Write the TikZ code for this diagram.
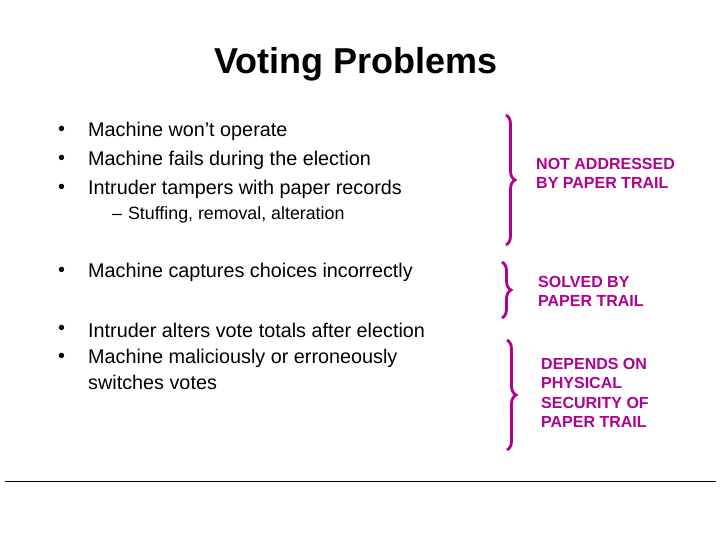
\documentclass[tikz,border=0pt]{standalone}
\usepackage{fontspec}
\setmainfont{Liberation Sans}
\usetikzlibrary{decorations.pathreplacing}
\definecolor{mag}{RGB}{176,0,140}
\begin{document}
\begin{tikzpicture}[x=1pt,y=-1pt,
  item/.style={anchor=west,font=\fontsize{19.8}{22}\selectfont,inner sep=0},
  sub/.style={anchor=west,font=\fontsize{17.8}{19}\selectfont,inner sep=0},
  lbl/.style={anchor=north west,align=left,text=mag,font=\bfseries\fontsize{16}{19.5}\selectfont,inner sep=0},
  br/.style={draw=mag,line width=2.8pt,decorate,decoration={brace,amplitude=9pt}}]
\fill[white] (0,0) rectangle (720,540);
\node[font=\bfseries\fontsize{36}{40}\selectfont] (title) at (356,64) {Voting Problems};
\foreach \y/\t [count=\i] in {131/Machine won’t operate,160/Machine fails during the election,189/Intruder tampers with paper records,272/Machine captures choices incorrectly,330/Intruder alters vote totals after election,358/Machine maliciously or erroneously}{
  \node[item] (b\i) at (58,\y) {•};
  \node[item] (t\i) at (88,\y) {\t};
}
\node[item] (t7) at (88,382) {switches votes};
\node[sub] (s1) at (112,215) {–\hspace{6pt}Stuffing, removal, alteration};
\draw[br] (506,115) coordinate (a1) -- (506,245) coordinate (a2);
\draw[br] (502,262) coordinate (c1) -- (502,318) coordinate (c2);
\draw[br] (507,340) coordinate (d1) -- (507,450) coordinate (d2);
\node[lbl] (l1) at (536,158) {NOT ADDRESSED\\BY PAPER TRAIL};
\node[lbl] (l2) at (538,276) {SOLVED BY\\PAPER TRAIL};
\node[lbl] (l3) at (541,358) {DEPENDS ON\\PHYSICAL\\SECURITY OF\\PAPER TRAIL};
\coordinate (h1) at (5,481); \coordinate (h2) at (716,481);
\draw[line width=0.8pt] (h1) -- (h2);
\end{tikzpicture}
\end{document}
